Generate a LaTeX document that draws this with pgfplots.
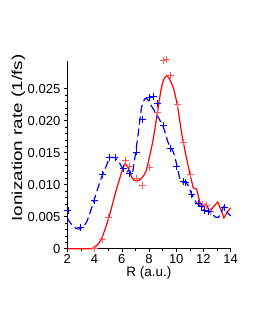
\documentclass[border=0pt]{standalone}
\usepackage{fontspec}
\setmainfont{Liberation Sans}
\usepackage{pgfplots}
\pgfplotsset{compat=1.18}
\definecolor{myred}{RGB}{255,0,0}
\definecolor{mypink}{RGB}{255,90,90}
\definecolor{myblue}{RGB}{0,0,255}
\begin{document}
\begin{tikzpicture}[x=1bp,y=1bp]
\useasboundingbox (0,0) rectangle (258,333);
\begin{axis}[
  at={(67.3bp,84.3bp)}, anchor=south west,
  scale only axis, width=163.4bp, height=187.7bp,
  axis lines=left, axis line style={-, line width=0.6pt},
  xmin=2, xmax=14, ymin=0, ymax=0.0293,
  xtick={2,4,...,14}, minor x tick num=1,
  ytick={0,0.005,0.010,0.015,0.020,0.025},
  yticklabels={0,0.005,0.010,0.015,0.020,0.025},
  minor y tick num=4,
  scaled y ticks=false,
  tick align=outside, major tick length=3.5bp, minor tick length=2bp,
  tick style={black, line width=0.5pt},
  /pgf/number format/assume math mode=true,
  tick label style={font=\fontsize{13bp}{15bp}\selectfont},
  xticklabel style={yshift=1bp},
  xlabel={R (a.u.)},
  xlabel style={font=\fontsize{13.5bp}{15bp}\selectfont, at={(axis description cs:0.5,-0.128)}, anchor=center},
  ylabel={\scalebox{1.3}[1]{Ionization rate (1/fs)}},
  ylabel style={font=\fontsize{14.5bp}{16bp}\selectfont, at={(axis description cs:-0.30,0.59)}, anchor=center},
  clip=false,
]
% red solid curve
\addplot[myred, line width=1.2pt, smooth, tension=0.4] coordinates {
(2,0) (3,0) (3.8,0) (4.0,0.0002) (4.3,0.0008) (4.6,0.0020) (5.0,0.0045)
(5.3,0.0068) (5.6,0.0092) (5.9,0.0113) (6.2,0.0132) (6.35,0.0130) (6.5,0.0125)
(6.7,0.0113) (6.9,0.0107) (7.2,0.0106) (7.4,0.0109) (7.6,0.0114) (7.8,0.0122)
(8.0,0.0140) (8.3,0.0170) (8.6,0.0210) (8.9,0.0250) (9.1,0.0265) (9.3,0.0270)
(9.5,0.0265) (9.8,0.0250) (10.1,0.0222) (10.4,0.0180) (10.7,0.0147) (11.0,0.0117)
};
\addplot[myred, line width=1.2pt] coordinates {
(11.0,0.0117) (11.25,0.0095) (11.5,0.0093) (11.75,0.0071) (12.0,0.0068) (12.2,0.0070)
(12.45,0.0058) (12.75,0.0066) (13.05,0.0073) (13.3,0.0060) (13.5,0.0048) (13.75,0.0057) (14.0,0.0064)
};
% blue dashed curve
\addplot[myblue, line width=1.2pt, dash pattern=on 8bp off 4bp, smooth, tension=0.4] coordinates {
(2.0,0.0048) (2.3,0.0038) (2.7,0.0031) (3.0,0.0032) (3.4,0.0041) (3.7,0.0058)
(4.0,0.0078) (4.3,0.0098) (4.6,0.0116) (4.9,0.0131) (5.1,0.0142) (5.5,0.0142)
(5.8,0.0135) (6.1,0.0124) (6.4,0.0120) (6.55,0.0123) (6.75,0.0115) (6.95,0.0140)
(7.2,0.0178) (7.45,0.0220) (7.7,0.0234) (7.9,0.0233) (8.2,0.0222) (8.55,0.0210)
(9.05,0.0190) (9.4,0.0166) (9.8,0.0150) (10.05,0.0130) (10.3,0.0107) (10.65,0.0104)
(10.9,0.0098) (11.15,0.0084) (11.5,0.0071) (11.8,0.0066) (12.1,0.0060)
(12.4,0.0058) (12.65,0.0054) (12.9,0.0049) (13.1,0.0049) (13.3,0.0056)
(13.5,0.0066) (13.7,0.0058) (14.0,0.0051)
};
% red markers
\addplot[only marks, mark=+, mark size=3.5bp, mypink, mark options={line width=1pt}] coordinates {
(4.0,0.0) (4.55,0.0015) (5.05,0.0049) (6.3,0.0137) (6.6,0.0128) (7.1,0.0110)
(7.55,0.0098) (8.05,0.0127) (8.6,0.0212) (9.05,0.0293) (9.3,0.0295) (9.55,0.0270)
(10.1,0.0225) (10.55,0.0165) (11.05,0.0116) (11.95,0.0069) (12.2,0.0068) (12.55,0.0058)
};
% blue markers
\addplot[only marks, mark=+, mark size=3.5bp, myblue, mark options={line width=0.9pt}] coordinates {
(2.05,0.0059) (3.0,0.0033) (4.0,0.0076) (4.55,0.0116) (5.1,0.0142) (5.5,0.0142)
(6.1,0.0125) (6.55,0.0118) (7.1,0.0151) (7.55,0.0201) (8.05,0.0236) (8.3,0.0238)
(8.6,0.0227) (9.05,0.0193) (9.55,0.0157) (10.05,0.0128) (10.5,0.0105) (10.7,0.0104)
(11.1,0.0085) (11.6,0.0070) (11.85,0.0066) (12.1,0.0060) (12.35,0.0058) (13.57,0.0065)
};
\end{axis}
\end{tikzpicture}
\end{document}
